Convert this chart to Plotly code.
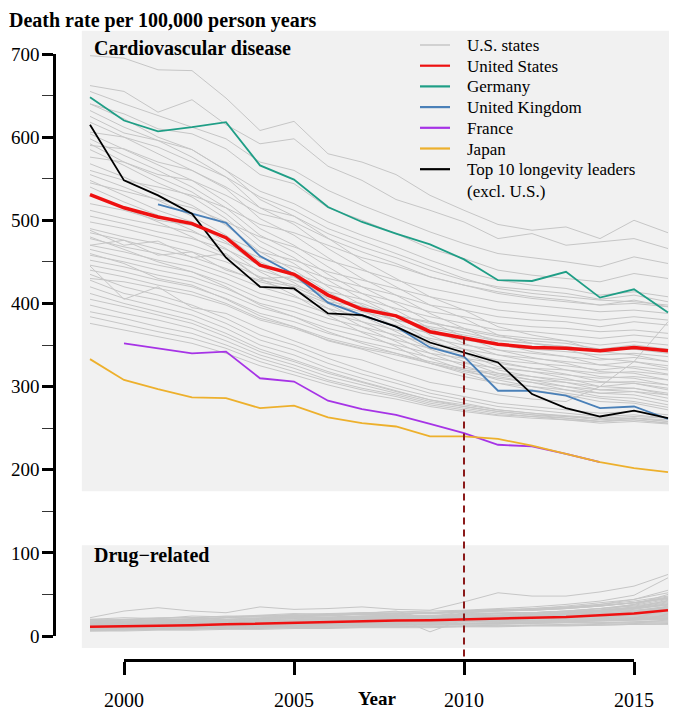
import plotly.graph_objects as go

FONT = "Liberation Serif"

years = list(range(1999, 2017))

# ---- Cardiovascular disease (per 100,000 person years) ----
us_cvd = [531, 515, 504, 496, 479, 446, 435, 410, 393, 385, 366, 359, 351, 347, 346, 343, 347, 343]
germany_cvd = [648, 620, 607, 612, 618, 566, 549, 516, 498, 484, 471, 453, 428, 427, 438, 407, 417, 389]
uk_cvd = [None, None, 519, 508, 497, 457, 435, 401, 386, 372, 347, 336, 295, 295, 289, 274, 276, 261]
france_cvd = [None, 352, 346, 340, 342, 310, 306, 283, 273, 266, 255, 244, 230, 228, 219, 209, None, None]
japan_cvd = [333, 308, 297, 287, 286, 274, 277, 263, 256, 252, 240, 240, 237, 229, 219, 209, 202, 197]
top10_cvd = [615, 548, 530, 508, 455, 420, 418, 388, 386, 372, 353, 341, 329, 291, 274, 264, 271, 262]

state_cvd = [
    [698, 695, 681, 680, 647, 608, 619, 580, 570, 555, 530, 512, 495, 488, 492, 478, 500, 485],
    [662, 655, 630, 645, 615, 592, 598, 565, 548, 525, 512, 498, 478, 484, 470, 474, 478, 466],
    [655, 640, 626, 612, 598, 570, 560, 536, 518, 502, 486, 472, 460, 455, 450, 444, 456, 448],
    [640, 628, 610, 604, 586, 555, 544, 515, 500, 484, 466, 454, 440, 434, 430, 426, 436, 430],
    [625, 605, 596, 585, 560, 535, 520, 498, 482, 468, 452, 438, 428, 422, 418, 410, 414, 408],
    [606, 600, 588, 570, 552, 528, 512, 490, 475, 460, 445, 430, 418, 412, 408, 404, 402, 398],
    [590, 586, 570, 560, 540, 515, 505, 484, 468, 455, 440, 428, 420, 416, 412, 405, 410, 402],
    [576, 570, 555, 548, 530, 508, 498, 478, 462, 448, 432, 422, 414, 408, 404, 398, 404, 396],
    [640, 622, 600, 585, 560, 525, 505, 478, 452, 430, 408, 392, 372, 362, 355, 342, 338, 330],
    [632, 612, 596, 576, 552, 515, 495, 466, 442, 420, 398, 382, 362, 352, 345, 334, 330, 322],
    [618, 600, 580, 560, 538, 502, 482, 455, 430, 410, 388, 370, 352, 342, 336, 326, 322, 315],
    [604, 585, 566, 548, 522, 490, 470, 444, 420, 400, 378, 360, 344, 335, 328, 318, 316, 308],
    [598, 578, 560, 540, 515, 482, 462, 435, 412, 392, 370, 352, 338, 330, 320, 312, 310, 302],
    [592, 570, 552, 534, 508, 475, 455, 428, 405, 385, 362, 345, 330, 322, 315, 306, 304, 296],
    [585, 566, 545, 528, 502, 468, 448, 420, 398, 378, 356, 340, 324, 318, 310, 300, 298, 290],
    [568, 552, 534, 518, 494, 462, 440, 414, 392, 372, 350, 334, 320, 312, 305, 296, 294, 286],
    [555, 540, 524, 505, 482, 450, 432, 406, 385, 366, 345, 330, 316, 308, 300, 292, 290, 282],
    [548, 530, 512, 498, 474, 445, 425, 400, 378, 360, 340, 325, 312, 305, 296, 288, 286, 278],
    [540, 522, 506, 488, 466, 438, 418, 394, 372, 354, 334, 320, 308, 300, 292, 286, 282, 275],
    [530, 515, 498, 480, 458, 430, 410, 386, 365, 348, 328, 316, 304, 296, 290, 282, 280, 272],
    [520, 512, 500, 494, 480, 462, 452, 438, 428, 418, 408, 400, 392, 388, 384, 380, 384, 380],
    [512, 502, 494, 486, 472, 455, 444, 430, 420, 410, 398, 392, 384, 380, 378, 372, 378, 374],
    [505, 496, 486, 478, 465, 446, 436, 422, 412, 402, 390, 384, 376, 372, 370, 366, 368, 364],
    [498, 490, 480, 470, 456, 440, 428, 414, 405, 394, 384, 376, 368, 366, 362, 358, 362, 358],
    [490, 480, 472, 462, 450, 432, 422, 408, 396, 386, 376, 370, 362, 358, 355, 350, 354, 350],
    [485, 476, 465, 456, 442, 426, 416, 400, 390, 380, 370, 362, 355, 352, 348, 344, 346, 342],
    [478, 468, 460, 450, 436, 420, 408, 394, 384, 374, 364, 356, 350, 345, 342, 338, 340, 336],
    [470, 462, 452, 444, 430, 412, 402, 388, 378, 368, 358, 350, 344, 340, 336, 332, 335, 330],
    [465, 455, 446, 438, 424, 406, 396, 382, 372, 362, 352, 345, 338, 334, 330, 326, 330, 325],
    [458, 450, 440, 432, 418, 400, 390, 376, 366, 356, 346, 340, 332, 328, 325, 320, 324, 320],
    [452, 444, 434, 426, 412, 395, 384, 370, 360, 350, 340, 334, 328, 322, 320, 316, 318, 314],
    [446, 438, 428, 420, 406, 388, 378, 364, 354, 345, 335, 328, 322, 318, 314, 310, 312, 308],
    [440, 432, 422, 414, 400, 382, 372, 358, 348, 340, 330, 322, 316, 312, 308, 305, 306, 302],
    [488, 470, 475, 455, 460, 430, 432, 405, 400, 385, 378, 368, 360, 355, 352, 345, 350, 345],
    [470, 476, 458, 462, 440, 428, 420, 402, 396, 380, 372, 365, 356, 352, 348, 344, 345, 340],
    [430, 426, 418, 410, 398, 380, 370, 356, 346, 338, 328, 320, 314, 308, 305, 300, 304, 298],
    [435, 420, 410, 398, 382, 362, 350, 334, 320, 308, 296, 288, 280, 276, 272, 268, 270, 266],
    [428, 412, 404, 392, 376, 356, 344, 328, 315, 304, 292, 284, 276, 272, 268, 264, 266, 262],
    [420, 406, 396, 386, 370, 350, 338, 322, 310, 298, 288, 280, 272, 268, 264, 262, 262, 258],
    [412, 400, 390, 380, 364, 345, 332, 318, 306, 295, 284, 276, 270, 266, 262, 258, 260, 256],
    [405, 396, 386, 376, 360, 342, 330, 316, 305, 294, 284, 278, 272, 268, 265, 262, 264, 262],
    [398, 388, 380, 370, 355, 338, 326, 312, 302, 292, 282, 276, 270, 266, 264, 260, 262, 260],
    [390, 382, 372, 364, 350, 334, 322, 308, 298, 290, 280, 274, 268, 264, 262, 258, 262, 258],
    [384, 375, 366, 358, 346, 330, 318, 306, 296, 288, 278, 272, 266, 264, 260, 258, 260, 256],
    [376, 368, 360, 352, 340, 325, 314, 302, 292, 285, 276, 270, 265, 262, 260, 256, 258, 255],
    [445, 405, 420, 395, 388, 370, 355, 340, 332, 318, 305, 298, 290, 285, 282, 300, 330, 378],
    [460, 448, 430, 422, 405, 385, 372, 355, 345, 332, 322, 312, 304, 300, 296, 292, 294, 290],
    [480, 465, 450, 438, 420, 398, 384, 366, 352, 340, 328, 318, 310, 305, 300, 296, 298, 292],
    [560, 548, 540, 530, 515, 495, 485, 470, 455, 445, 432, 422, 412, 406, 402, 398, 400, 396],
    [545, 535, 525, 515, 498, 480, 468, 452, 440, 428, 418, 410, 402, 398, 394, 390, 392, 388],
]

# ---- Drug-related (per 100,000 person years) ----
us_drug = [11, 11.5, 12, 13, 14, 15, 16, 17, 18, 18.5, 19, 20, 21, 21.5, 23, 25, 27, 31]

state_drug = [
    [22, 30, 34, 30, 28, 35, 32, 33, 35, 32, 31, 41, 52, 48, 48, 53, 60, 74],
    [14, 16, 18, 20, 22, 24, 26, 27, 28, 29, 30, 31, 33, 35, 38, 42, 49, 70],
    [18, 19, 21, 22, 24, 24, 25, 26, 27, 27, 28, 30, 31, 32, 34, 38, 44, 52],
    [16, 17, 19, 20, 22, 23, 24, 26, 26, 27, 28, 30, 32, 33, 35, 38, 42, 48],
    [20, 20, 22, 22, 23, 24, 25, 25, 26, 26, 27, 28, 30, 31, 33, 36, 40, 46],
    [12, 13, 15, 17, 19, 21, 23, 25, 26, 27, 28, 30, 31, 32, 34, 37, 40, 45],
    [15, 15, 16, 17, 18, 20, 21, 22, 23, 24, 24, 26, 27, 28, 30, 33, 36, 42],
    [10, 11, 13, 14, 16, 17, 19, 21, 22, 23, 24, 26, 27, 28, 29, 31, 34, 40],
    [17, 16, 17, 18, 19, 21, 22, 23, 24, 24, 25, 26, 27, 28, 29, 31, 34, 38],
    [13, 14, 15, 16, 17, 18, 19, 20, 21, 22, 22, 24, 25, 26, 28, 30, 33, 37],
    [19, 18, 19, 19, 20, 21, 22, 22, 23, 23, 24, 25, 25, 26, 27, 29, 31, 35],
    [11, 12, 13, 14, 15, 16, 17, 18, 19, 20, 21, 23, 24, 25, 26, 28, 30, 34],
    [14, 14, 15, 15, 16, 17, 18, 19, 20, 20, 21, 22, 23, 24, 25, 27, 29, 33],
    [9, 10, 11, 12, 13, 14, 16, 17, 18, 19, 20, 22, 23, 24, 25, 27, 29, 32],
    [16, 16, 17, 17, 18, 18, 19, 20, 20, 21, 21, 22, 23, 23, 24, 26, 28, 31],
    [12, 12, 13, 14, 15, 16, 17, 17, 18, 19, 19, 21, 22, 23, 24, 25, 27, 30],
    [8, 9, 10, 11, 12, 13, 14, 15, 16, 17, 18, 19, 20, 21, 22, 24, 26, 29],
    [13, 13, 14, 14, 15, 16, 16, 17, 18, 18, 19, 20, 21, 22, 23, 24, 26, 28],
    [10, 10, 11, 12, 13, 14, 15, 16, 16, 17, 18, 19, 20, 21, 22, 23, 25, 27],
    [15, 15, 15, 16, 16, 17, 17, 18, 18, 19, 19, 20, 20, 21, 22, 23, 24, 26],
    [9, 9, 10, 11, 12, 13, 14, 15, 15, 16, 17, 18, 19, 20, 21, 22, 23, 25],
    [12, 12, 12, 13, 13, 14, 15, 15, 16, 16, 17, 18, 18, 19, 20, 21, 22, 24],
    [7, 8, 9, 10, 11, 12, 13, 14, 14, 15, 16, 17, 18, 19, 20, 21, 22, 24],
    [11, 11, 11, 12, 12, 13, 14, 14, 15, 15, 16, 17, 17, 18, 19, 20, 21, 23],
    [14, 14, 14, 14, 15, 15, 15, 16, 16, 16, 17, 17, 18, 18, 19, 20, 21, 22],
    [8, 8, 9, 9, 10, 11, 12, 12, 13, 14, 14, 15, 16, 17, 18, 19, 20, 22],
    [10, 10, 10, 11, 11, 12, 12, 13, 13, 14, 14, 15, 16, 16, 17, 18, 19, 21],
    [6, 7, 8, 9, 10, 11, 12, 12, 13, 13, 14, 15, 15, 16, 17, 18, 19, 20],
    [9, 9, 9, 10, 10, 11, 11, 12, 12, 13, 13, 14, 14, 15, 16, 16, 17, 19],
    [12, 12, 12, 12, 13, 13, 13, 13, 14, 14, 14, 15, 15, 15, 16, 16, 17, 18],
    [7, 7, 8, 8, 9, 9, 10, 10, 11, 11, 12, 12, 13, 13, 14, 15, 16, 17],
    [8, 8, 8, 9, 9, 10, 10, 10, 11, 11, 11, 12, 12, 13, 13, 14, 15, 16],
    [6, 6, 7, 7, 8, 8, 9, 9, 10, 10, 10, 11, 11, 12, 12, 13, 14, 15],
    [10, 10, 10, 10, 10, 11, 11, 11, 11, 12, 12, 12, 12, 13, 13, 13, 14, 14],
    [20, 22, 21, 24, 23, 25, 27, 26, 28, 27, 22, 30, 32, 31, 33, 36, 40, 47],
    [17, 18, 20, 19, 22, 21, 24, 25, 27, 30, 20, 28, 30, 33, 36, 40, 44, 55],
    [13, 15, 14, 17, 16, 19, 18, 21, 20, 22, 5, 20, 24, 25, 27, 30, 34, 43],
    [11, 13, 12, 14, 16, 15, 18, 17, 20, 21, 23, 22, 25, 27, 26, 30, 33, 39],
    [15, 17, 16, 18, 17, 20, 19, 22, 21, 24, 23, 26, 25, 27, 29, 31, 35, 41],
    [9, 11, 10, 13, 12, 15, 14, 16, 18, 17, 19, 21, 20, 23, 25, 27, 30, 36],
    [16, 17, 18, 17, 19, 20, 19, 21, 22, 21, 23, 24, 24, 25, 27, 29, 32, 38],
    [18, 20, 19, 21, 20, 22, 23, 22, 24, 25, 24, 27, 28, 28, 30, 33, 37, 44],
    [12, 13, 14, 13, 15, 16, 15, 17, 18, 17, 19, 20, 21, 22, 23, 25, 28, 33],
    [7, 8, 10, 11, 13, 14, 15, 16, 17, 18, 19, 20, 22, 24, 27, 31, 38, 50],
    [14, 15, 16, 18, 19, 21, 23, 24, 26, 28, 27, 29, 30, 31, 33, 36, 40, 45],
    [10, 12, 14, 16, 18, 19, 21, 22, 24, 25, 24, 26, 27, 28, 30, 33, 38, 46],
    [8, 9, 10, 11, 11, 12, 13, 13, 14, 14, 15, 15, 16, 17, 18, 19, 20, 21],
    [11, 12, 13, 14, 15, 16, 17, 18, 19, 19, 20, 21, 22, 23, 24, 26, 29, 35],
]

y_ticks = [0, 100, 200, 300, 400, 500, 600, 700]
y_minor_ticks = [50, 150, 250, 350, 450, 550, 650]
x_ticks = [2000, 2005, 2010, 2015]
marker_year = 2010

series = [
    ("United States", us_cvd, "#EE1111", 3.5),
    ("Germany", germany_cvd, "#1F9E86", 1.8),
    ("United Kingdom", uk_cvd, "#4A80B8", 1.8),
    ("France", france_cvd, "#A633E6", 1.8),
    ("Japan", japan_cvd, "#EDB02C", 1.8),
    ("Top 10 longevity leaders<br>(excl. U.S.)", top10_cvd, "#000000", 1.8),
]
GRAY = "#C6C6C6"
PANEL = "#F1F1F1"

# ---- geometry ----
# The page is 677x711; the browser's default 8px body margin offsets the figure,
# so the figure is made 8px smaller and page pixel positions are shifted by 8.
PAGE_W, PAGE_H = 677, 711
OFF = 8
FW, FH = PAGE_W - OFF, PAGE_H - OFF


def fx(px):      # page pixel x -> paper x
    return (px - OFF) / FW


def fy(py):      # page pixel y -> paper y
    return 1 - (py - OFF) / FH


Y0_PX, Y700_PX = 636, 54           # page y of value 0 and 700
X1999_PX, X2015_PX = 90, 634       # page x of 1999 and 2015
PX_PER_YEAR = (X2015_PX - X1999_PX) / 16
x_lo = 1999 - (X1999_PX - OFF) / PX_PER_YEAR
x_hi = 1999 + (PAGE_W - X1999_PX) / PX_PER_YEAR

K = (Y0_PX - Y700_PX) / 700.0
yd0, yd1 = fy(Y0_PX), fy(Y700_PX)
full_r0 = -(PAGE_H - Y0_PX) / K
full_r1 = 700 + (Y700_PX - OFF) / K
XAXIS_PX = 660
xaxis_value = (Y0_PX - XAXIS_PX) / K


def ypaper(v):
    return yd0 + v / 700 * (yd1 - yd0)


fig = go.Figure()

for vals in state_cvd:
    fig.add_trace(go.Scatter(x=years, y=vals, mode="lines", line=dict(color=GRAY, width=1),
                             showlegend=False, hoverinfo="skip"))
for vals in state_drug:
    fig.add_trace(go.Scatter(x=years, y=vals, mode="lines", line=dict(color=GRAY, width=1),
                             showlegend=False, hoverinfo="skip"))

fig.add_trace(go.Scatter(x=years, y=us_drug, mode="lines", line=dict(color="#EE1111", width=2.5),
                         showlegend=False))

for k in [1, 2, 3, 4, 5, 0]:
    name, vals, col, w = series[k]
    fig.add_trace(go.Scatter(x=years, y=vals, mode="lines", name=name,
                             line=dict(color=col, width=w), showlegend=False))

# dashed reference line at 2010, drawn on the bracket year axis
us_at_marker = us_cvd[years.index(marker_year)]
fig.add_trace(go.Scatter(x=[marker_year, marker_year], y=[us_at_marker, xaxis_value],
                         xaxis="x2", yaxis="y2", mode="lines", showlegend=False,
                         line=dict(color="#8B1A1A", width=2, dash="7px,5px"), hoverinfo="skip"))

shapes = []
for lo, hi in [(174, 728), (-14.5, 109)]:
    shapes.append(dict(type="rect", xref="x", yref="paper", x0=1998.76, x1=2017,
                       y0=ypaper(lo), y1=ypaper(hi), fillcolor=PANEL,
                       line=dict(width=0), layer="below"))

annotations = []
annotations.append(dict(text="<b>Death rate per 100,000 person years</b>", xref="paper", yref="paper",
                        x=0, y=1, xanchor="left", yanchor="top", showarrow=False,
                        borderpad=0, font=dict(family=FONT, size=20, color="black")))
annotations.append(dict(text="<b>Cardiovascular disease</b>", xref="paper", yref="paper",
                        x=fx(92), y=fy(48), xanchor="left", yanchor="middle", showarrow=False,
                        font=dict(family=FONT, size=20, color="black")))
annotations.append(dict(text="<b>Drug\u2212related</b>", xref="paper", yref="paper",
                        x=fx(92), y=fy(555), xanchor="left", yanchor="middle", showarrow=False,
                        font=dict(family=FONT, size=20, color="black")))
annotations.append(dict(text="<b>Year</b>", xref="x", yref="paper",
                        x=2007.47, y=fy(698), xanchor="center", yanchor="middle", showarrow=False,
                        font=dict(family=FONT, size=19, color="black")))

# legend (drawn manually to match the row spacing)
legend_items = [("U.S. states", GRAY, 1.5)] + [(s[0], s[2], 2.2) for s in series]
row_y = 45
for name, col, w in legend_items:
    shapes.append(dict(type="line", xref="paper", yref="paper", x0=fx(420), x1=fx(450),
                       y0=fy(row_y), y1=fy(row_y), line=dict(color=col, width=w)))
    annotations.append(dict(text=name, xref="paper", yref="paper", x=fx(465), y=fy(row_y - 11),
                            xanchor="left", yanchor="top", align="left", showarrow=False,
                            font=dict(family=FONT, size=17, color="black")))
    row_y += 20.7

fig.update_layout(
    template="none",
    width=FW, height=FH,
    margin=dict(l=0, r=0, t=0, b=0, autoexpand=False),
    paper_bgcolor="white", plot_bgcolor="rgba(0,0,0,0)",
    showlegend=False,
    font=dict(family=FONT, size=18, color="black"),
    xaxis=dict(domain=[0, 1], range=[x_lo, x_hi], visible=False, fixedrange=True,
               automargin=False),
    yaxis=dict(domain=[yd0, yd1], range=[0, 700], anchor="free", position=fx(54),
               showline=True, linewidth=2.5, linecolor="black",
               ticks="outside", ticklen=11, tickwidth=2.5, tickcolor="black",
               tickvals=y_ticks, showgrid=False, zeroline=False, ticklabelstandoff=-1,
               tickfont=dict(family=FONT, size=19, color="black"),
               minor=dict(tickvals=y_minor_ticks, ticks="outside",
                          ticklen=11, tickwidth=1, tickcolor="#333333", showgrid=False),
               fixedrange=True, automargin=False),
    xaxis2=dict(domain=[fx(124), fx(634)], range=[2000, 2015], anchor="free", position=fy(XAXIS_PX),
                showline=True, linewidth=2.5, linecolor="black",
                ticks="outside", ticklen=13, tickwidth=2.5, tickcolor="black",
                tickvals=x_ticks, showgrid=False, zeroline=False, ticklabelstandoff=8,
                tickfont=dict(family=FONT, size=20, color="black"), fixedrange=True,
                automargin=False),
    yaxis2=dict(domain=[0, 1], range=[full_r0, full_r1], anchor="free", position=0,
                visible=False, fixedrange=True, automargin=False),
    shapes=shapes,
    annotations=annotations,
)

fig.write_html("out.html")
